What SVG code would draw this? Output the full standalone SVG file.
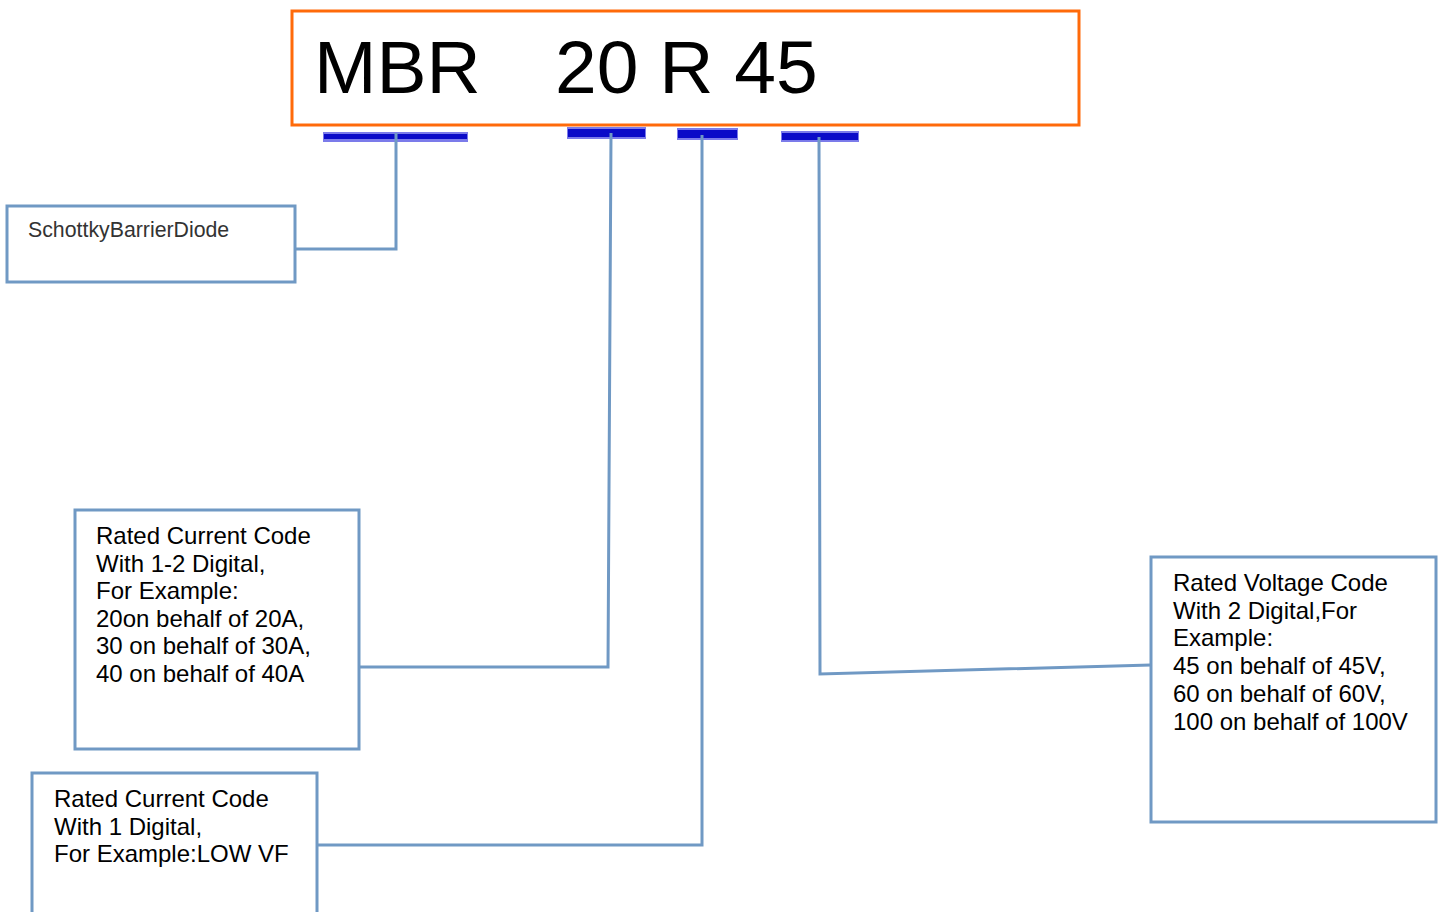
<svg xmlns="http://www.w3.org/2000/svg" width="1444" height="912" viewBox="0 0 1444 912">
<style>
.box{fill:#fff;stroke:#7099C4;stroke-width:3}
.conn{fill:none;stroke:#7099C4;stroke-width:3}
.t{font-family:"Liberation Sans",Arial,sans-serif;font-size:24px;fill:#000}
.halo{fill:#7B7BEA}
.core{fill:#0A0AC8}
</style>
<rect width="1444" height="912" fill="#fff"/>
<g id="code">
<rect x="292" y="11" width="787" height="114" fill="#fff" stroke="#FF6A0A" stroke-width="3"/>
<text class="t" style="font-size:75px" y="93"><tspan x="314">MBR</tspan><tspan x="555">20 R 45</tspan></text>
</g>
<g id="bars">
<rect class="halo" x="323" y="132" width="145" height="10"/>
<rect class="core" x="324" y="134" width="143" height="5"/>
<rect class="halo" x="567" y="127" width="79" height="12"/>
<rect class="core" x="568" y="129" width="77" height="8"/>
<rect class="halo" x="677" y="128" width="61" height="12"/>
<rect class="core" x="678" y="130" width="59" height="8"/>
<rect class="halo" x="781" y="131" width="78" height="11"/>
<rect class="core" x="782" y="133" width="76" height="7"/>
</g>
<g id="connectors">
<polyline class="conn" points="396,133 396,249 296,249"/>
<polyline class="conn" points="611,133 608,667 354,667"/>
<polyline class="conn" points="702,135 702,845 317,845"/>
<polyline class="conn" points="819,137 820,674 1151,665"/>
</g>
<g id="node-sbd">
<rect class="box" x="7" y="206" width="288" height="76"/>
<text class="t" style="font-size:21.3px;fill:#333" x="28" y="237">SchottkyBarrierDiode</text>
</g>
<g id="node-current12">
<rect class="box" x="75" y="510" width="284" height="239"/>
<text class="t" x="96" y="544">Rated Current Code<tspan x="96" dy="27.6">With 1-2 Digital,</tspan><tspan x="96" dy="27.6">For Example:</tspan><tspan x="96" dy="27.6">20on behalf of 20A,</tspan><tspan x="96" dy="27.6">30 on behalf of 30A,</tspan><tspan x="96" dy="27.6">40 on behalf of 40A</tspan></text>
</g>
<g id="node-current1">
<rect class="box" x="32" y="773" width="285" height="150"/>
<text class="t" x="54" y="807">Rated Current Code<tspan x="54" dy="27.6">With 1 Digital,</tspan><tspan x="54" dy="27.6">For Example:LOW VF</tspan></text>
</g>
<g id="node-voltage">
<rect class="box" x="1151" y="557" width="285" height="265"/>
<text class="t" x="1173" y="591">Rated Voltage Code<tspan x="1173" dy="27.7">With 2 Digital,For</tspan><tspan x="1173" dy="27.7">Example:</tspan><tspan x="1173" dy="27.7">45 on behalf of 45V,</tspan><tspan x="1173" dy="27.7">60 on behalf of 60V,</tspan><tspan x="1173" dy="27.7">100 on behalf of 100V</tspan></text>
</g>
</svg>
